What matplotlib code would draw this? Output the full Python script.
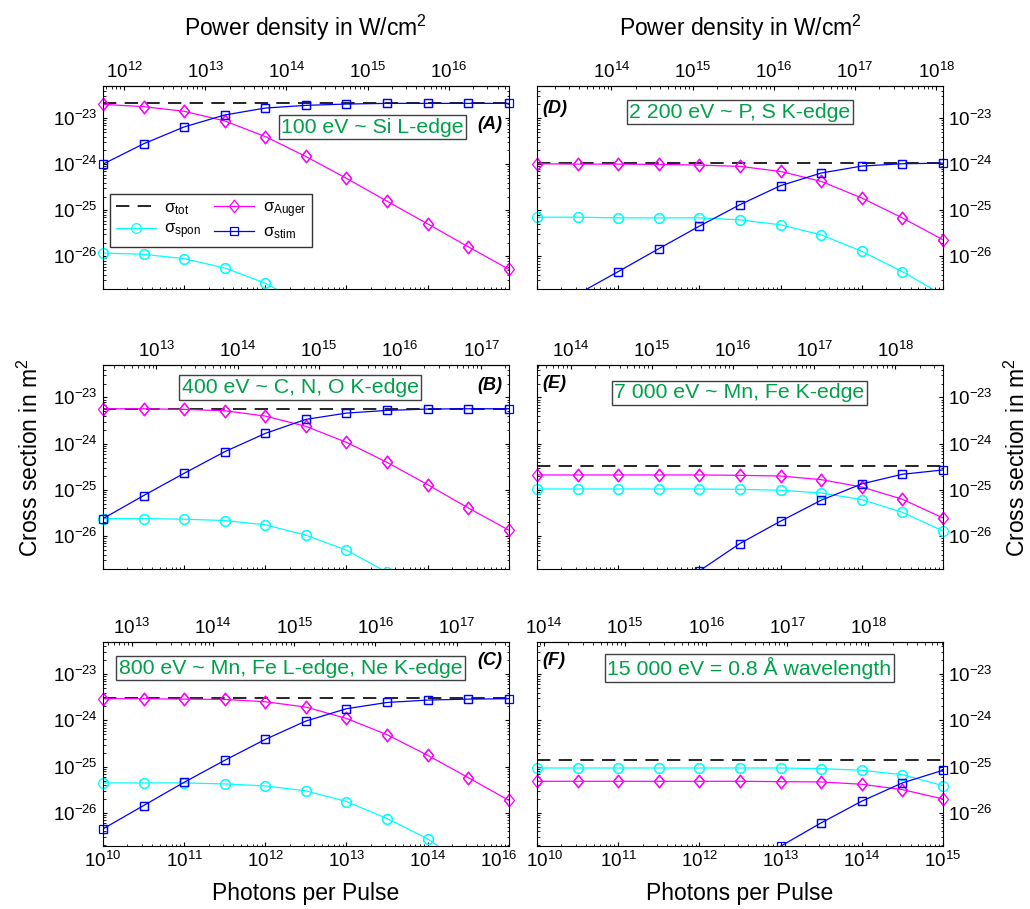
"""Cross sections vs photons per pulse for six photon energies (panels A-F)."""
import matplotlib
matplotlib.use("Agg")
import matplotlib.pyplot as plt
import matplotlib.transforms as mtransforms
import numpy as np
from matplotlib.path import Path

# photons per pulse, half-decade steps
PHOTONS = [1e10, 3.16e10, 1e11, 3.16e11, 1e12, 3.16e12, 1e13, 3.16e13, 1e14, 3.16e14, 1e15]

# (A) 100 eV
A_TOT = 2.2e-23
A_SPON = [1.18e-26, 1.11e-26, 8.91e-27, 5.60e-27, 2.61e-27, 8.9e-28, 2.8e-28, 8.9e-29, 2.8e-29, 8.9e-30, 2.8e-30]
A_AUGER = [2.01e-23, 1.79e-23, 1.42e-23, 8.75e-24, 4.01e-24, 1.48e-24, 4.95e-25, 1.58e-25, 5.09e-26, 1.62e-26, 5.25e-27]
A_STIM = [1.01e-24, 2.79e-24, 6.50e-24, 1.18e-23, 1.67e-23, 1.91e-23, 2.04e-23, 2.11e-23, 2.11e-23, 2.11e-23, 2.11e-23]

# (B) 400 eV
B_TOT = 5.69e-24
B_SPON = [2.40e-26, 2.40e-26, 2.33e-26, 2.18e-26, 1.76e-26, 1.05e-26, 4.99e-27, 1.66e-27, 5.0e-28, 1.6e-28, 5.0e-29]
B_AUGER = [5.69e-24, 5.69e-24, 5.51e-24, 5.15e-24, 3.95e-24, 2.37e-24, 1.07e-24, 3.95e-25, 1.30e-25, 4.09e-26, 1.35e-26]
B_STIM = [2.40e-26, 7.55e-26, 2.29e-25, 6.71e-25, 1.67e-24, 3.35e-24, 4.59e-24, 5.24e-24, 5.60e-24, 5.69e-24, 5.69e-24]

# (C) 800 eV
C_TOT = 2.99e-24
C_SPON = [4.44e-26, 4.44e-26, 4.44e-26, 4.23e-26, 3.83e-26, 2.99e-26, 1.76e-26, 7.55e-27, 2.75e-27, 6.6e-28, 1.6e-28]
C_AUGER = [2.94e-24, 2.94e-24, 2.88e-24, 2.84e-24, 2.53e-24, 1.94e-24, 1.10e-24, 4.91e-25, 1.76e-25, 5.79e-26, 1.87e-26]
C_STIM = [4.52e-27, 1.44e-26, 4.59e-26, 1.37e-25, 3.89e-25, 9.68e-25, 1.79e-24, 2.44e-24, 2.75e-24, 2.88e-24, 2.94e-24]

# (D) 2 200 eV
D_TOT = 1.08e-24
D_SPON = [7.10e-26, 7.10e-26, 6.87e-26, 6.87e-26, 6.87e-26, 6.22e-26, 4.85e-26, 2.94e-26, 1.29e-26, 4.67e-27, 1.45e-27]
D_AUGER = [1.03e-24, 1.01e-24, 1.01e-24, 9.95e-25, 9.62e-25, 9.02e-25, 7.01e-25, 4.27e-25, 1.86e-25, 6.87e-26, 2.30e-26]
D_STIM = [4.9e-28, 1.51e-27, 4.67e-27, 1.47e-26, 4.54e-26, 1.33e-25, 3.44e-25, 6.46e-25, 9.16e-25, 1.03e-24, 1.06e-24]

# (E) 7 000 eV
E_TOT = 3.24e-25
E_SPON = [1.05e-25, 1.05e-25, 1.05e-25, 1.05e-25, 1.05e-25, 1.03e-25, 9.84e-26, 8.61e-26, 6.18e-26, 3.30e-26, 1.30e-26]
E_AUGER = [2.11e-25, 2.11e-25, 2.11e-25, 2.11e-25, 2.11e-25, 2.07e-25, 2.00e-25, 1.67e-25, 1.16e-25, 6.30e-26, 2.49e-26]
E_STIM = [1.1e-29, 4.0e-29, 1.4e-28, 5.0e-28, 1.78e-27, 6.95e-27, 2.11e-26, 5.98e-26, 1.35e-25, 2.18e-25, 2.70e-25]

# (F) 15 000 eV
F_TOT = 1.39e-25
F_SPON = [9.35e-26, 9.35e-26, 9.35e-26, 9.35e-26, 9.35e-26, 9.35e-26, 9.35e-26, 9.06e-26, 8.34e-26, 6.71e-26, 3.89e-26]
F_AUGER = [4.82e-26, 4.82e-26, 4.82e-26, 4.82e-26, 4.82e-26, 4.82e-26, 4.74e-26, 4.67e-26, 4.16e-26, 3.19e-26, 2.00e-26]
F_STIM = [2.0e-30, 6.3e-30, 2.0e-29, 6.3e-29, 2.0e-28, 6.3e-28, 1.9e-27, 6.08e-27, 1.79e-26, 4.44e-26, 8.34e-26]

ENERGIES_EV = [100, 400, 800, 2200, 7000, 15000]
NOTES = [
    "100 eV ~ Si L-edge",
    "400 eV ~ C, N, O K-edge",
    "800 eV ~ Mn, Fe L-edge, Ne K-edge",
    "2 200 eV ~ P, S K-edge",
    "7 000 eV ~ Mn, Fe K-edge",
    "15 000 eV = 0.8 \u00c5 wavelength",
]
TAGS = ["(A)", "(B)", "(C)", "(D)", "(E)", "(F)"]
BOTTOM_LABELS_C = ["$10^{10}$", "$10^{11}$", "$10^{12}$", "$10^{13}$", "$10^{14}$", "$10^{16}$"]
BOTTOM_LABELS_F = ["$10^{10}$", "$10^{11}$", "$10^{12}$", "$10^{13}$", "$10^{14}$", "$10^{15}$"]
BOTTOM_TICKS = [1e10, 1e11, 1e12, 1e13, 1e14, 1e15]

# W/cm^2 per photon per eV (top axis conversion)
POWER_PER_PHOTON_EV = 0.55

YLIM = (10 ** -26.71, 10 ** -22.30)
GREEN = "#00a04a"
TICK_FS = 13.5

# open diamond a bit wider than matplotlib's thin diamond
DIAMOND = Path([(0, -1), (0.8, 0), (0, 1), (-0.8, 0), (0, -1)],
               [Path.MOVETO, Path.LINETO, Path.LINETO, Path.LINETO, Path.CLOSEPOLY])

plt.rcParams.update({
    "font.family": ["Liberation Sans", "DejaVu Sans"],
    "mathtext.fontset": "custom",
    "mathtext.rm": "Liberation Sans",
    "mathtext.it": "Liberation Sans:italic",
    "mathtext.bf": "Liberation Sans:bold",
    "mathtext.default": "regular",
    "axes.linewidth": 0.8,
    "xtick.direction": "in",
    "ytick.direction": "in",
    "xtick.major.size": 3.2,
    "ytick.major.size": 3.2,
    "xtick.minor.size": 1.8,
    "ytick.minor.size": 1.8,
})

fig = plt.figure(figsize=(10.30, 9.09), dpi=100)

LEFT_X, RIGHT_X, WIDTH = 0.100, 0.5214, 0.394
ROWS = [(0.682, 0.2233), (0.374, 0.2244), (0.0696, 0.2244)]

series = [
    (A_TOT, A_SPON, A_AUGER, A_STIM),
    (B_TOT, B_SPON, B_AUGER, B_STIM),
    (C_TOT, C_SPON, C_AUGER, C_STIM),
    (D_TOT, D_SPON, D_AUGER, D_STIM),
    (E_TOT, E_SPON, E_AUGER, E_STIM),
    (F_TOT, F_SPON, F_AUGER, F_STIM),
]
note_pos = [(0.664, 0.798), (0.486, 0.89), (0.462, 0.871), (0.50, 0.872), (0.499, 0.865), (0.523, 0.871)]
tag_pos = [(0.985, 0.81), (0.985, 0.90), (0.985, 0.91), (0.013, 0.89), (0.013, 0.91), (0.013, 0.91)]

x = np.asarray(PHOTONS)
axes = []
for i, (tot, spon, auger, stim) in enumerate(series):
    col, row = divmod(i, 3)
    bottom, height = ROWS[row]
    ax = fig.add_axes([LEFT_X if col == 0 else RIGHT_X, bottom, WIDTH, height])
    axes.append(ax)
    ax.set_xscale("log")
    ax.set_yscale("log")

    styles = [
        (np.full(len(x), tot), dict(color="black", ls=(0, (8, 5)), lw=1.2, marker=None), r"$\sigma_{tot}$"),
        (np.asarray(spon), dict(color="#00ffff", lw=0.9, marker="o", ms=7), r"$\sigma_{spon}$"),
        (np.asarray(auger), dict(color="#ff00ff", lw=0.9, marker=DIAMOND, ms=9), r"$\sigma_{Auger}$"),
        (np.asarray(stim), dict(color="#0000ff", lw=0.9, marker="s", ms=6), r"$\sigma_{stim}$"),
    ]
    for y, kw, lab in styles:
        ax.plot(x, y, mfc="none", mew=0.9, label=lab, **kw)
        # markers sitting on the frame are not cut in half
        if kw["marker"] is not None:
            inside = np.where(y >= YLIM[0], y, np.nan)
            ax.plot(x, inside, ls="none", marker=kw["marker"], ms=kw["ms"], mfc="none",
                    mec=kw["color"], mew=0.9, clip_on=False)

    ax.set_xlim(PHOTONS[0], PHOTONS[-1])
    ax.set_ylim(*YLIM)
    ax.set_yticks([1e-26, 1e-25, 1e-24, 1e-23])
    ax.tick_params(which="both", top=False, bottom=True, left=True, right=True,
                   labelsize=TICK_FS)
    if col == 1:
        ax.tick_params(labelleft=False, labelright=True)

    if row == 2:
        ax.set_xticks(BOTTOM_TICKS)
        ax.set_xticklabels(BOTTOM_LABELS_C if col == 0 else BOTTOM_LABELS_F)
        # edge labels are pulled inward a little, as in the original
        edge = ax.get_xticklabels()[-1 if col == 0 else 0]
        shift = -10 if col == 0 else 7
        edge.set_transform(edge.get_transform()
                           + mtransforms.ScaledTranslation(shift / 100, 0, fig.dpi_scale_trans))
    else:
        ax.tick_params(labelbottom=False)

    f = POWER_PER_PHOTON_EV * ENERGIES_EV[i]
    sec = ax.secondary_xaxis("top", functions=(lambda v, f=f: v * f, lambda v, f=f: v / f))
    sec.tick_params(which="both", direction="in", labelsize=TICK_FS, pad=3)

    ax.text(*note_pos[i], NOTES[i], transform=ax.transAxes, ha="center", va="center",
            color=GREEN, fontsize=15.3,
            bbox=dict(boxstyle="square,pad=0.12", fc="white", ec="0.25", lw=1.0))
    ax.text(*tag_pos[i], TAGS[i], transform=ax.transAxes, ha="right" if col == 0 else "left",
            va="center", fontsize=13, fontweight="bold", fontstyle="italic")

handles, labels = axes[0].get_legend_handles_labels()
axes[0].legend(handles, labels, ncol=2, loc="upper left", bbox_to_anchor=(0.017, 0.468),
               borderaxespad=0, fontsize=12, frameon=True, fancybox=False, framealpha=1,
               edgecolor="0.2", handlelength=2.4, columnspacing=0.8, borderpad=0.35,
               labelspacing=0.3, handletextpad=0.5)

for cx in (LEFT_X + WIDTH / 2, RIGHT_X + WIDTH / 2):
    fig.text(cx, 0.969, "Power density in W/cm$^2$", ha="center", va="center", fontsize=16.5)
    fig.text(cx, 0.0176, "Photons per Pulse", ha="center", va="center", fontsize=16.5)
fig.text(0.029, 0.496, "Cross section in m$^2$", rotation=90, ha="center", va="center", fontsize=16.5)
fig.text(0.988, 0.496, "Cross section in m$^2$", rotation=90, ha="center", va="center", fontsize=16.5)

fig.savefig("out.png", dpi=100)
